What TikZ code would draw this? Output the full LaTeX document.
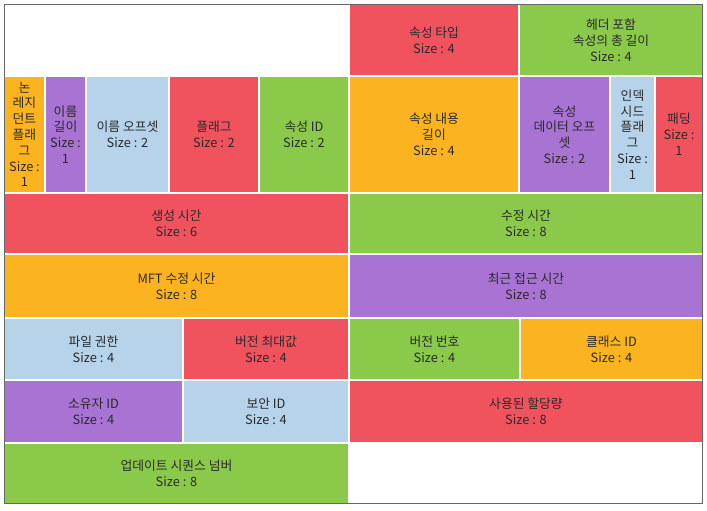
\documentclass[tikz,border=0pt]{standalone}
\usepackage{fontspec}
\setmainfont{Noto Sans CJK KR}
\definecolor{cred}{HTML}{F0535E}
\definecolor{cgreen}{HTML}{8AC94A}
\definecolor{corange}{HTML}{FBB31F}
\definecolor{cpurple}{HTML}{A973D3}
\definecolor{cblue}{HTML}{B7D3EA}
\definecolor{ctext}{HTML}{2A2A2A}
\definecolor{cborder}{HTML}{666666}
\begin{document}
\begin{tikzpicture}[x=1pt,y=-1pt,
  cell/.style={anchor=north west,inner sep=0pt,outer sep=0pt,draw=none,align=center,
    text=ctext,font=\fontsize{12.8}{15.8}\selectfont},
  red/.style={cell,fill=cred},
  green/.style={cell,fill=cgreen},
  orange/.style={cell,fill=corange},
  purple/.style={cell,fill=cpurple},
  lblue/.style={cell,fill=cblue}]
\fill[white] (0,0) rectangle (707,511);
\useasboundingbox (0,0) rectangle (707,511);
% row 1
\node[red,minimum width=168,minimum height=70] (atype) at (350,5) {속성 타입\\Size : 4};
\node[green,minimum width=182,minimum height=70] (hlen) at (520,5) {헤더 포함\\속성의 총 길이\\Size : 4};
% row 2
\node[orange,minimum width=39,minimum height=115] (nonres) at (5,77) {논\\레지\\던트\\플래\\그\\Size :\\1};
\node[purple,minimum width=39,minimum height=115] (nlen) at (46,77) {이름\\길이\\Size :\\1};
\node[lblue,minimum width=81,minimum height=115] (noff) at (87,77) {이름 오프셋\\Size : 2};
\node[red,minimum width=88,minimum height=115] (flag) at (170,77) {플래그\\Size : 2};
\node[green,minimum width=88,minimum height=115] (aid) at (260,77) {속성 ID\\Size : 2};
\node[orange,minimum width=168,minimum height=115] (clen) at (350,77) {속성 내용\\길이\\Size : 4};
\node[purple,minimum width=89,minimum height=115] (doff) at (520,77) {속성\\데이터 오프\\셋\\Size : 2};
\node[lblue,minimum width=43,minimum height=115] (idx) at (611,77) {인덱\\시드\\플래\\그\\Size :\\1};
\node[red,minimum width=46,minimum height=115] (pad) at (656,77) {패딩\\Size :\\1};
% row 3
\node[red,minimum width=343,minimum height=59] (ctime) at (5,194) {생성 시간\\Size : 6};
\node[green,minimum width=352,minimum height=59] (mtime) at (350,194) {수정 시간\\Size : 8};
% row 4
\node[orange,minimum width=343,minimum height=62] (mftt) at (5,255) {MFT 수정 시간\\Size : 8};
\node[purple,minimum width=352,minimum height=62] (atime) at (350,255) {최근 접근 시간\\Size : 8};
% row 5
\node[lblue,minimum width=177,minimum height=60] (perm) at (5,319) {파일 권한\\Size : 4};
\node[red,minimum width=164,minimum height=60] (vmax) at (184,319) {버전 최대값\\Size : 4};
\node[green,minimum width=169,minimum height=60] (vnum) at (350,319) {버전 번호\\Size : 4};
\node[orange,minimum width=181,minimum height=60] (cid) at (521,319) {클래스 ID\\Size : 4};
% row 6
\node[purple,minimum width=177,minimum height=61] (oid) at (5,381) {소유자 ID\\Size : 4};
\node[lblue,minimum width=164,minimum height=61] (sid) at (184,381) {보안 ID\\Size : 4};
\node[red,minimum width=352,minimum height=61] (quota) at (350,381) {사용된 할당량\\Size : 8};
% row 7
\node[green,minimum width=343,minimum height=59] (usn) at (5,444) {업데이트 시퀀스 넘버\\Size : 8};
% outer border
\draw[cborder,line width=1.3pt] (4.3,4.3) rectangle (702.7,503.7);
\end{tikzpicture}
\end{document}
